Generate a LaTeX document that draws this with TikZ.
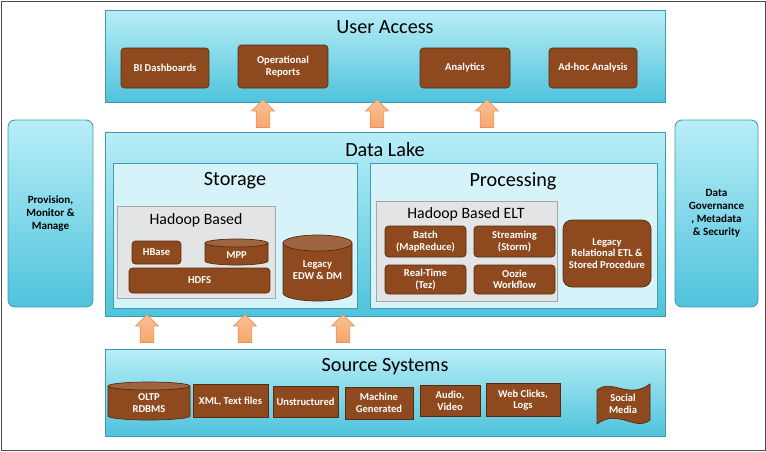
\documentclass[tikz,border=0pt]{standalone}
\usepackage{fontspec}
\setmainfont{Carlito}
\usetikzlibrary{shapes.arrows}
\definecolor{cyanlo}{HTML}{4FC3DC}
\definecolor{cyanhi}{HTML}{B8EEF7}
\definecolor{pale}{HTML}{D6F3F9}
\definecolor{brun}{HTML}{8E4A1E}
\definecolor{grisbox}{HTML}{E2E4E5}
\definecolor{orange}{HTML}{F8A66A}
\tikzset{
  bloc/.style={draw=cyanlo!80!black, top color=cyanhi, bottom color=cyanlo, line width=0.5pt},
  sousbloc/.style={draw=cyanlo!80!black, fill=pale},
  gris/.style={draw=gray!70, fill=grisbox},
  titre/.style={font=\fontsize{11.5}{12}\selectfont},
  soustitre/.style={font=\fontsize{9}{10}\selectfont},
  etiq/.style={text=white, align=center, font=\bfseries\fontsize{6}{6.5}\selectfont, inner sep=1pt},
  brique/.style={etiq, draw=brun!60!black, fill=brun, rounded corners=2pt},
  doc/.style={etiq, draw=brun!60!black, fill=brun},
  fut/.style={draw=brun!60!black, fill=brun},
  fleche/.style={single arrow, shape border rotate=90, top color=orange!70!white, bottom color=orange,
    draw=orange!90!black, inner sep=0.13cm, single arrow head extend=0.09cm,
    minimum height=0.56cm, single arrow head indent=0pt},
  cote/.style={bloc, rounded corners=4pt, align=center, font=\bfseries\fontsize{6.3}{7.5}\selectfont}
}
% cylindre : nom, centre x, haut, bas, rayon, demi-hauteur ellipse, texte (y du texte)
\newcommand\baril[8]{%
  \pgfmathsetmacro\xa{#2-#5}\pgfmathsetmacro\xb{#2+#5}
  \draw[fut] (\xa,#3) -- (\xa,#4) arc[start angle=180, end angle=0, x radius=#5, y radius=#6] -- (\xb,#3);
  \draw[fut, fill=brun!85!white] (#2,#3) ellipse[x radius=#5, y radius=#6];
  \node[etiq] (#1) at (#2,#8) {#7};
}
\begin{document}
\begin{tikzpicture}[x=0.02cm, y=-0.02cm]
  \useasboundingbox (0,0) rectangle (766,451);
  \draw[black!70] (1,1) rectangle (765,450);
  % big blocks
  \draw[bloc] (105,10) rectangle (665,102);
  \node[titre] (ua) at (385,27) {User Access};
  \draw[bloc] (105,132) rectangle (665,316);
  \node[titre] (dl) at (385,150) {Data Lake};
  \draw[bloc] (105,349) rectangle (665,436);
  \node[titre] (ss) at (385,367) {Source Systems};
  \node[cote, minimum width=1.7cm, minimum height=3.74cm] (gauche) at (50.5,213.5) {Provision,\\Monitor \&\\Manage};
  \node[cote, minimum width=1.66cm, minimum height=3.74cm] (droite) at (716.5,213.5) {Data\\Governance\\, Metadata\\\& Security};
  % user access
  \node[brique, minimum width=1.76cm, minimum height=0.8cm] (bi) at (165,68) {BI Dashboards};
  \node[brique, minimum width=1.8cm, minimum height=0.86cm] (rep) at (283,66.5) {Operational\\Reports};
  \node[brique, minimum width=1.8cm, minimum height=0.8cm] (ana) at (465,68) {Analytics};
  \node[brique, minimum width=1.76cm, minimum height=0.8cm] (adhoc) at (593,68) {Ad-hoc Analysis};
  % arrows
  \foreach \x/\n in {263/a, 377/b, 487/c} \node[fleche] (h\n) at (\x,117) {};
  \foreach \x/\n in {147/a, 245/b, 343/c} \node[fleche] (b\n) at (\x,332) {};
  % storage
  \draw[sousbloc] (113,163) rectangle (357,308);
  \node[titre] (sto) at (235,181) {Storage};
  \draw[gris] (117,206) rectangle (275,298);
  \node[soustitre] (hb) at (196,220) {Hadoop Based};
  \node[brique, minimum width=0.98cm, minimum height=0.46cm] (hbase) at (156.5,252.5) {HBase};
  \baril{mpp}{236.5}{243}{261}{31.5}{4}{MPP}{255}
  \node[brique, minimum width=2.82cm, minimum height=0.5cm] (hdfs) at (199.5,280.5) {HDFS};
  \baril{edw}{317.5}{243}{293}{34.5}{8}{Legacy\\EDW \& DM}{270}
  % processing
  \draw[sousbloc] (370,163) rectangle (657,308);
  \node[titre] (proc) at (513,181) {Processing};
  \draw[gris] (376,201) rectangle (557,301);
  \node[soustitre] (elt) at (466,214) {Hadoop Based ELT};
  \node[brique, minimum width=1.62cm, minimum height=0.62cm] (batch) at (425.5,241.5) {Batch\\(MapReduce)};
  \node[brique, minimum width=1.62cm, minimum height=0.62cm] (stream) at (514.5,241.5) {Streaming\\(Storm)};
  \node[brique, minimum width=1.62cm, minimum height=0.58cm] (rt) at (425.5,279.5) {Real-Time\\(Tez)};
  \node[brique, minimum width=1.62cm, minimum height=0.58cm] (oozie) at (514.5,279.5) {Oozie\\Workflow};
  \node[brique, rounded corners=5pt, minimum width=1.76cm, minimum height=1.34cm] (relat) at (607,253.5) {Legacy\\Relational ETL \&\\Stored Procedure};
  % sources
  \baril{oltp}{149}{386}{416}{41}{4}{OLTP\\RDBMS}{403}
  \node[doc, minimum width=1.5cm, minimum height=0.66cm] (xml) at (230.5,401) {XML, Text files};
  \node[doc, minimum width=1.3cm, minimum height=0.62cm] (unst) at (305.5,402) {Unstructured};
  \node[doc, minimum width=1.36cm, minimum height=0.64cm] (mach) at (379,403) {Machine\\Generated};
  \node[doc, minimum width=1.2cm, minimum height=0.62cm] (av) at (450,401) {Audio,\\Video};
  \node[doc, minimum width=1.48cm, minimum height=0.66cm] (web) at (523,400) {Web Clicks,\\Logs};
  \draw[fut] (597,390) .. controls (612,378) and (628,400) .. (650,384)
    -- (650,420) .. controls (635,432) and (618,408) .. (597,424) -- cycle;
  \node[etiq] (soc) at (623,404) {Social\\Media};
\end{tikzpicture}
\end{document}
